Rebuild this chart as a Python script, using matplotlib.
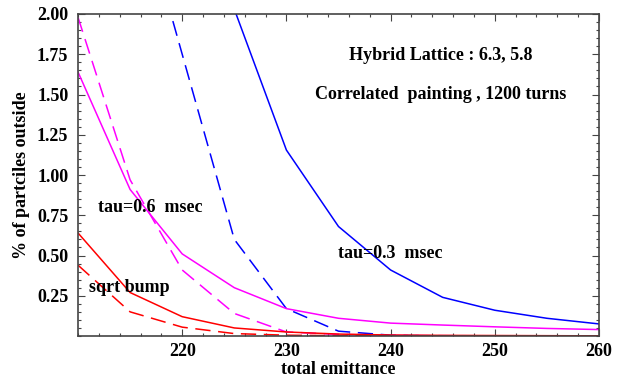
import matplotlib.pyplot as plt
from matplotlib.ticker import MultipleLocator

# total emittance grid
emit = [210, 215, 220, 225, 230, 235, 240, 245, 250, 255, 260]

# tau = 0.3 msec
tau03_solid = [4.2, 3.0, 2.6, 2.03, 1.155, 0.68, 0.41, 0.24, 0.16, 0.11, 0.075]
tau03_dash = [3.9, 2.9, 1.75, 0.60, 0.17, 0.03, 0.005, 0.0, 0.0, 0.0, 0.0]
# tau = 0.6 msec
tau06_solid = [1.64, 0.91, 0.51, 0.30, 0.17, 0.11, 0.08, 0.068, 0.057, 0.047, 0.04]
tau06_dash = [1.98, 0.97, 0.41, 0.14, 0.025, 0.01, 0.004, 0.002, 0.001, 0.0, 0.0]
# sqrt bump
sqrt_solid = [0.64, 0.27, 0.12, 0.05, 0.025, 0.012, 0.006, 0.004, 0.003, 0.002, 0.001]
sqrt_dash = [0.44, 0.15, 0.055, 0.015, 0.005, 0.002, 0.0, 0.0, 0.0, 0.0, 0.0]

plt.rcParams['font.family'] = 'Liberation Serif'
plt.rcParams['font.weight'] = 'bold'

fig = plt.figure(figsize=(6.21, 3.77), dpi=100)
ax = fig.add_axes([78 / 621, 41 / 377, 521 / 621, 322 / 377])

dash = (10, 5)
lw = 1.1
ax.plot(emit, tau03_solid, color='#0000ff', lw=lw)
ax.plot(emit, tau03_dash, color='#0000ff', lw=lw, dashes=dash)
ax.plot(emit, tau06_solid, color='#ff00ff', lw=lw)
ax.plot(emit, tau06_dash, color='#ff00ff', lw=lw, dashes=dash)
ax.plot(emit, sqrt_solid, color='#ff0000', lw=lw)
ax.plot(emit, sqrt_dash, color='#ff0000', lw=lw, dashes=dash)

ax.set_xlim(210, 260)
ax.set_ylim(0, 2.0)
ax.set_xticks([220, 230, 240, 250, 260])
ax.set_yticks([0.25, 0.5, 0.75, 1.0, 1.25, 1.5, 1.75, 2.0])
ax.yaxis.set_major_formatter(plt.FormatStrFormatter('%.2f'))
ax.xaxis.set_minor_locator(MultipleLocator(2))
ax.yaxis.set_minor_locator(MultipleLocator(0.05))
ax.tick_params(which='both', direction='in', top=True, right=True,
               labelsize=13, width=0.8, color='#444444')
ax.tick_params(which='major', length=5, pad=7)
ax.tick_params(axis='x', which='major', pad=5)
ax.tick_params(which='minor', length=2.5)
for lab in ax.get_xticklabels() + ax.get_yticklabels():
    lab.set_fontweight('bold')
for sp in ax.spines.values():
    sp.set_color('#444444')
    sp.set_linewidth(1.2)

fig.text(338 / 621, 1 - 369 / 377, 'total emittance', fontsize=13, fontweight='bold',
         ha='center', va='center')
fig.text(22 / 621, 1 - 175 / 377, '% of partciles outside', fontsize=13, fontweight='bold',
         ha='center', va='center', rotation=90)

ax.text(244.8, 1.74, 'Hybrid Lattice : 6.3, 5.8', fontsize=13, fontweight='bold',
        ha='center', va='center')
ax.text(244.8, 1.50, 'Correlated  painting , 1200 turns', fontsize=13, fontweight='bold',
        ha='center', va='center')
ax.text(211.9, 0.80, 'tau=0.6  msec', fontsize=13, fontweight='bold', va='center')
ax.text(211.1, 0.30, 'sqrt bump', fontsize=13, fontweight='bold', va='center')
ax.text(235.0, 0.51, 'tau=0.3  msec', fontsize=13, fontweight='bold', va='center')

fig.savefig('out.png', dpi=100)
